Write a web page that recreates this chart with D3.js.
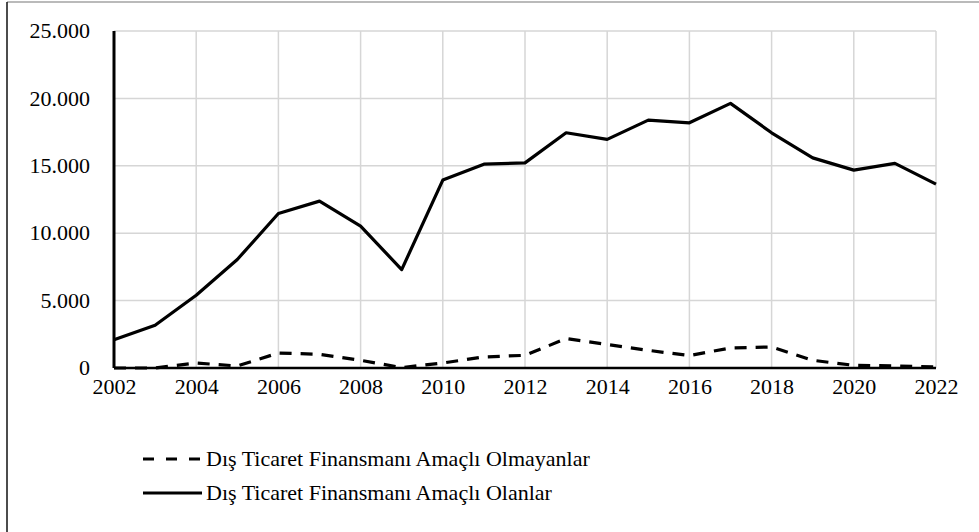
<!DOCTYPE html>
<html>
  <head>
    <meta charset="utf-8">
    <title>dis ticaret</title>
    <style>
      body { margin: 0; background: #fff; font-family: "Liberation Serif"; }
      #container text { font-family: "Liberation Serif" !important; }
    </style>
  </head>
  <body>
    <div id="container"></div>
    <script src="https://cdn.jsdelivr.net/npm/d3@7"></script>
    <script>
      var years = [2002, 2003, 2004, 2005, 2006, 2007, 2008, 2009, 2010, 2011, 2012,
                   2013, 2014, 2015, 2016, 2017, 2018, 2019, 2020, 2021, 2022];
      var olanlar = [2100, 3170, 5400, 8050, 11460, 12380, 10520, 7300, 13940, 15120, 15220,
                     17450, 16960, 18390, 18190, 19630, 17450, 15590, 14680, 15180, 13640];
      var olmayanlar = [0, 0, 370, 150, 1110, 1020, 570, 30, 370, 820, 940,
                        2180, 1740, 1310, 920, 1490, 1560, 570, 200, 150, 80];
      var yTicks = [0, 5000, 10000, 15000, 20000, 25000];
      var xTicks = [2002, 2004, 2006, 2008, 2010, 2012, 2014, 2016, 2018, 2020, 2022];
      var seriesNames = ["Dış Ticaret Finansmanı Amaçlı Olmayanlar", "Dış Ticaret Finansmanı Amaçlı Olanlar"];

      var FONT = "Liberation Serif";
      var W = 979, H = 532;
      var margin = {top: 31, right: 43, bottom: 164, left: 114};
      var width = W - margin.left - margin.right,
          height = H - margin.top - margin.bottom;

      var svg = d3.select("#container").append("svg")
        .attr("width", W)
        .attr("height", H)
        .attr("font-family", FONT);

      // frame
      svg.append("line").attr("x1", 7).attr("x2", W).attr("y1", 2).attr("y2", 2)
        .style("stroke", "#777").style("stroke-width", 1.2);
      svg.append("line").attr("x1", 7).attr("x2", 7).attr("y1", 2).attr("y2", H)
        .style("stroke", "#111").style("stroke-width", 1.5);

      var g = svg.append("g")
        .attr("transform", "translate(" + margin.left + "," + margin.top + ")");

      var x = d3.scaleLinear().domain([2002, 2022]).range([0, width]);
      var y = d3.scaleLinear().domain([0, 25000]).range([height, 0]);

      // grid
      g.selectAll(".hgrid").data(yTicks.slice(1)).enter().append("line")
        .attr("x1", 0).attr("x2", width)
        .attr("y1", function(d) { return y(d); }).attr("y2", function(d) { return y(d); })
        .style("stroke", "#d6d6d6").style("stroke-width", 1.5);
      g.selectAll(".vgrid").data(xTicks.slice(1)).enter().append("line")
        .attr("x1", function(d) { return x(d); }).attr("x2", function(d) { return x(d); })
        .attr("y1", 0).attr("y2", height)
        .style("stroke", "#d6d6d6").style("stroke-width", 1.5);

      var fmt = function(d) { return d === 0 ? "0" : d3.format(",")(d).replace(/,/g, "."); };

      var yAxis = g.append("g")
        .call(d3.axisLeft(y).tickValues(yTicks).tickFormat(fmt).tickSize(0).tickPadding(24));
      yAxis.attr("font-family", null).attr("font-size", null);
      yAxis.select(".domain").remove();
      yAxis.selectAll("text").attr("dy", "0.3em")
        .attr("font-family", FONT).attr("font-size", 22);

      var xAxis = g.append("g")
        .attr("transform", "translate(0," + height + ")")
        .call(d3.axisBottom(x).tickValues(xTicks).tickFormat(d3.format("d")).tickSize(0).tickPadding(10));
      xAxis.attr("font-family", null).attr("font-size", null);
      xAxis.select(".domain").remove();
      xAxis.selectAll("text").attr("font-family", FONT).attr("font-size", 22);

      var line = d3.line()
        .x(function(d, i) { return x(years[i]); })
        .y(function(d) { return y(d); });

      g.append("path").datum(olmayanlar)
        .attr("d", line)
        .style("fill", "none").style("stroke", "#000")
        .style("stroke-width", 3.2).style("stroke-dasharray", "12,9");

      // axis lines
      g.append("line").attr("x1", 0).attr("x2", 0).attr("y1", 0).attr("y2", height)
        .style("stroke", "#000").style("stroke-width", 3);
      g.append("line").attr("x1", 0).attr("x2", width).attr("y1", height).attr("y2", height)
        .style("stroke", "#000").style("stroke-width", 2.5);

      g.append("path").datum(olanlar)
        .attr("d", line)
        .style("fill", "none").style("stroke", "#000")
        .style("stroke-width", 3.2).style("stroke-linejoin", "round");

      // legend
      var legend = svg.append("g");
      var rows = [{name: seriesNames[0], dash: "11,12", y: 459},
                  {name: seriesNames[1], dash: null, y: 493}];
      rows.forEach(function(r) {
        legend.append("line")
          .attr("x1", 143).attr("x2", 202).attr("y1", r.y).attr("y2", r.y)
          .style("stroke", "#000").style("stroke-width", 3.2)
          .style("stroke-dasharray", r.dash);
        legend.append("text")
          .attr("x", 206).attr("y", r.y).attr("dy", "0.33em")
          .attr("font-family", FONT).attr("font-size", 22)
          .text(r.name);
      });
    </script>
  </body>
</html>
